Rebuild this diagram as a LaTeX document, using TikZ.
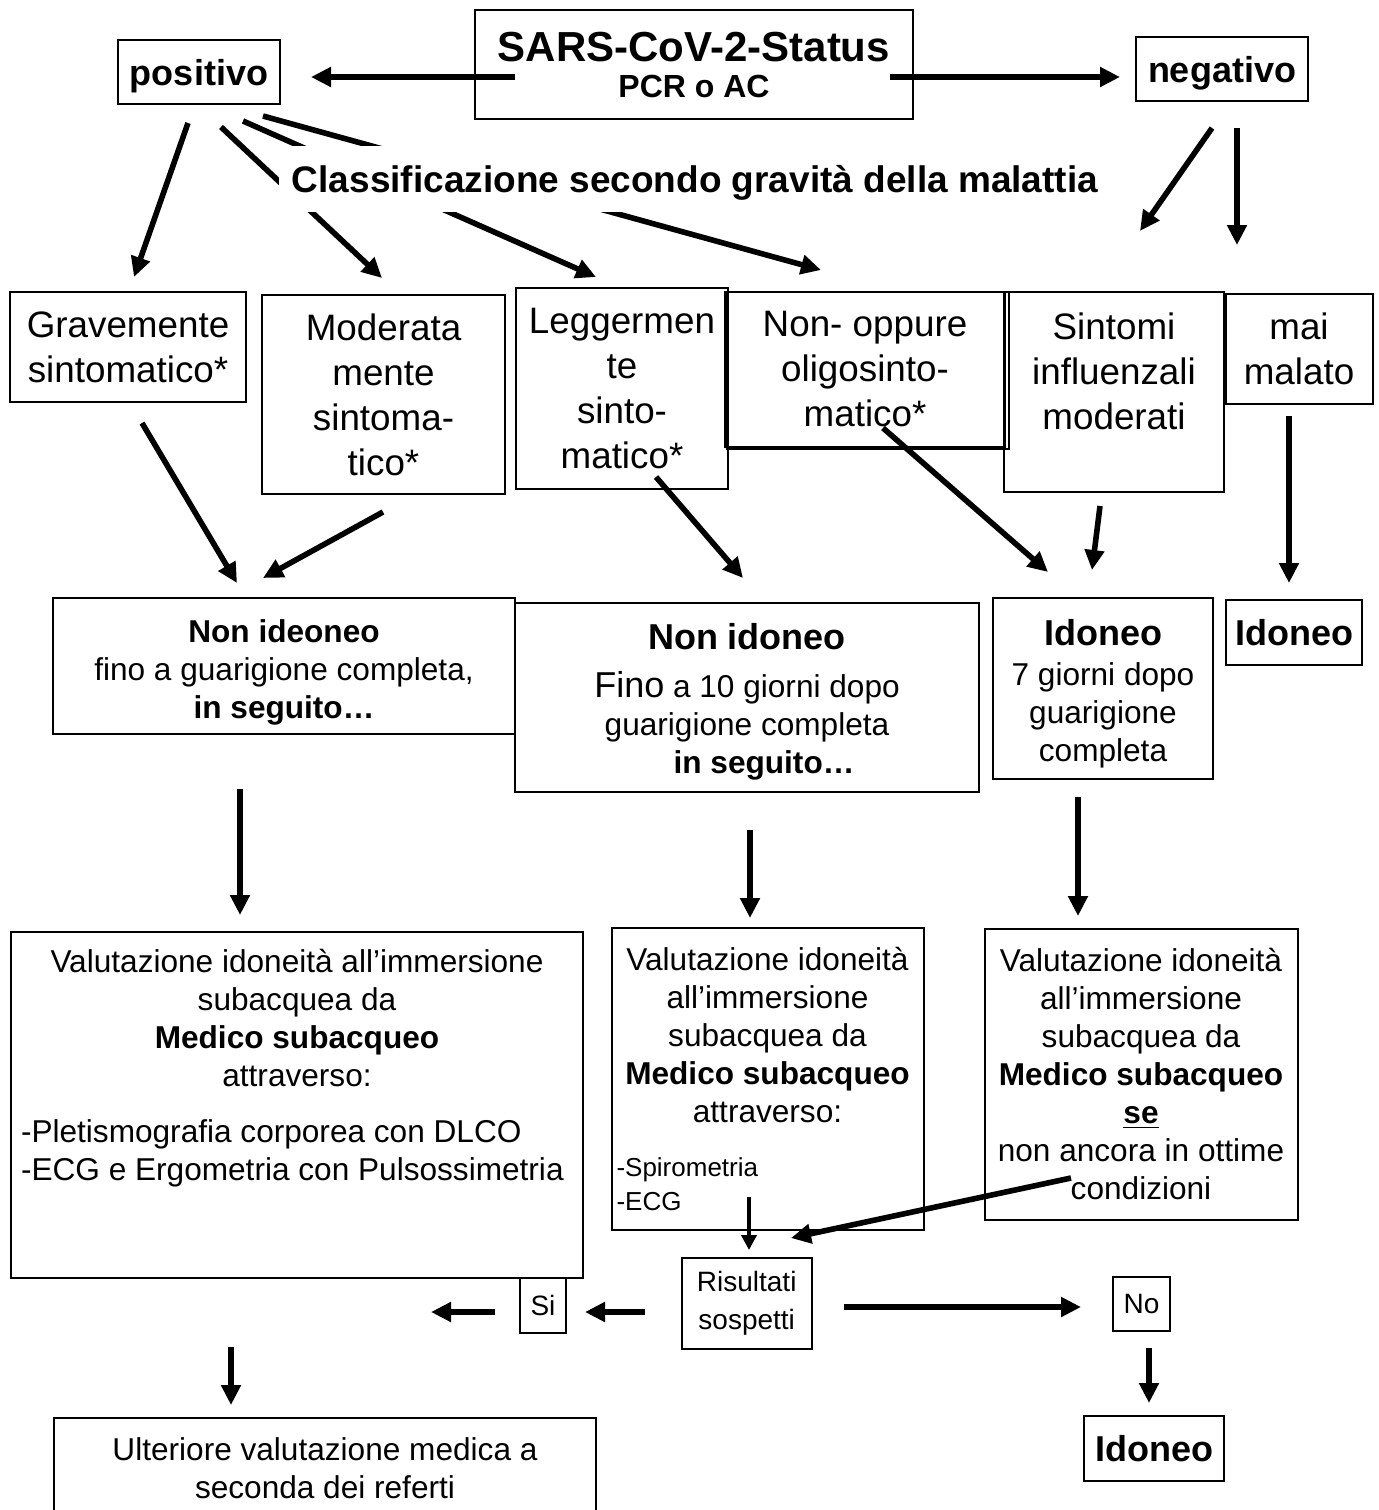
\documentclass[tikz,border=0pt]{standalone}
\usepackage{fontspec}
\setmainfont{Liberation Sans}
\usetikzlibrary{arrows.meta}

\newcommand\txtbig{\fontsize{18.4}{22.5}\selectfont}
\newcommand\txtmid{\fontsize{15.8}{19}\selectfont}
\newcommand\txtsmall{\fontsize{13}{17}\selectfont}
\newcommand\txtres{\fontsize{14}{19}\selectfont}
\newcommand\txthead{\fontsize{18}{22}\selectfont\bfseries}

\tikzset{
    box/.style={draw, line width=1pt, align=center, inner sep=0pt},
    arr/.style={line width=2.8pt, -{Triangle[length=10pt,width=9.5pt]}},
    thinarr/.style={line width=2pt, -{Triangle[length=7.5pt,width=7.5pt]}}
}

\begin{document}
\begin{tikzpicture}[x=0.5pt, y=-0.5pt]
    \useasboundingbox (0,0) rectangle (1378,1510);

    % status and result of the test
    \node[box, minimum width=219pt, minimum height=54.5pt, font=\fontsize{16}{18}\selectfont\bfseries] (status) at (694,64.5)
        {{\fontsize{21}{25}\selectfont SARS-CoV-2-Status}\\PCR o AC};
    \node[box, minimum width=81pt, minimum height=32pt, font=\txthead, text depth=0pt] (pos) at (199,72) {positivo};
    \node[box, minimum width=86pt, minimum height=32pt, font=\txthead, text depth=0pt] (neg) at (1222,69) {negativo};

    \coordinate (status-w) at (515,77);
    \coordinate (pos-e) at (311,77);
    \coordinate (status-e) at (890,77);
    \coordinate (neg-w) at (1120,77);
    \draw[arr] (status-w) -- (pos-e);
    \draw[arr] (status-e) -- (neg-w);

    % severity classes
    \node[box, minimum width=118pt, minimum height=55pt, font=\txtbig] (grav) at (128,347) {Gravemente\\sintomatico*};
    \node[box, minimum width=121.5pt, minimum height=99.5pt, font=\txtbig] (mod) at (383.5,394.5) {Moderata\\mente\\sintoma-\\tico*};
    \node[box, minimum width=106pt, minimum height=100.5pt, font=\txtbig] (legg) at (622,388.5) {Leggermen\\te\\sinto-\\matico*};
    \node[box, minimum width=140pt, minimum height=77.5pt, font=\txtbig] (olig) at (865,369.5) {Non- oppure\\oligosinto-\\matico*};
    \draw[line width=1pt] ([shift={(3,1)}]olig.north west) rectangle ([shift={(3,1)}]olig.south east);
    \node[box, minimum width=110pt, minimum height=100pt, font=\txtbig, text depth=20.5pt] (sint) at (1114,392) {Sintomi\\influenzali\\moderati};
    \node[box, minimum width=73.5pt, minimum height=55pt, font=\txtbig] (mai) at (1299,349) {mai\\malato};

    \coordinate (pos-s1) at (188,123);
    \coordinate (pos-s2) at (221,127);
    \coordinate (pos-s3) at (243,121);
    \coordinate (pos-s4) at (263,116);
    \coordinate (grav-n) at (134,277);
    \coordinate (mod-n) at (382,278);
    \coordinate (legg-n) at (596,277);
    \coordinate (olig-n) at (821,270);
    \coordinate (neg-s1) at (1212,128);
    \coordinate (neg-s2) at (1237,128);
    \coordinate (sint-n) at (1140,231);
    \coordinate (mai-n) at (1237,245);
    \draw[arr] (pos-s1) -- (grav-n);
    \draw[arr] (pos-s2) -- (mod-n);
    \draw[arr] (pos-s3) -- (legg-n);
    \draw[arr] (pos-s4) -- (olig-n);
    \draw[arr] (neg-s1) -- (sint-n);
    \draw[arr] (neg-s2) -- (mai-n);

    \node[fill=white, minimum width=416pt, minimum height=33pt, inner sep=0pt, text depth=0pt, font=\fontsize{18.5}{22}\selectfont\bfseries] (classif) at (695,179)
        {Classificazione secondo gravità della malattia};

    % fitness
    \node[box, minimum width=231pt, minimum height=68pt, font=\txtmid] (nonid1) at (284,666)
        {\rule{0pt}{18.3pt}\textbf{Non ideoneo}\\fino a guarigione completa,\\\textbf{in seguito…}};
    \node[box, minimum width=232pt, minimum height=94.5pt, font=\txtmid] (nonid2) at (747,697.5)
        {\rule{0pt}{17pt}{\txthead Non idoneo}\\[5pt]{\fontsize{18}{19}\selectfont Fino} a 10 giorni dopo\\guarigione completa\\\hspace*{17pt}\textbf{in seguito…}};
    \node[box, minimum width=110pt, minimum height=90.5pt, font=\txtmid] (ido1) at (1103,688.5)
        {\rule{0pt}{18.4pt}{\txthead Idoneo}\\[1pt]7 giorni dopo\\guarigione\\completa};
    \node[box, minimum width=68pt, minimum height=32.5pt, font=\txthead] (ido2) at (1294,632.5) {Idoneo};

    \coordinate (grav-s) at (142,423);
    \coordinate (mod-s) at (383,512);
    \coordinate (legg-in) at (656,477);
    \coordinate (olig-in) at (883,428);
    \coordinate (sint-s) at (1100,506);
    \coordinate (mai-s) at (1289,416);
    \coordinate (nonid1-n1) at (237,583);
    \coordinate (nonid1-n2) at (263,578);
    \coordinate (nonid2-n) at (743,578);
    \coordinate (ido1-n1) at (1048,572);
    \coordinate (ido1-n2) at (1092,570);
    \coordinate (ido2-n) at (1289,583);
    \draw[arr] (grav-s) -- (nonid1-n1);
    \draw[arr] (mod-s) -- (nonid1-n2);
    \draw[arr] (legg-in) -- (nonid2-n);
    \draw[arr] (olig-in) -- (ido1-n1);
    \draw[arr] (sint-s) -- (ido1-n2);
    \draw[arr] (mai-s) -- (ido2-n);

    % medical evaluation
    \node[box, minimum width=286pt, minimum height=173pt, font=\txtmid, text depth=40pt] (val1) at (297,1105)
        {Valutazione idoneità all’immersione\\subacquea da\\\textbf{Medico subacqueo}\\attraverso:\\[9pt]
         \makebox[276pt][l]{-Pletismografia corporea con DLCO}\\
         \makebox[276pt][l]{-ECG e Ergometria con Pulsossimetria}};
    \node[box, minimum width=156pt, minimum height=151pt, font=\txtmid] (val2) at (767.5,1079)
        {Valutazione idoneità\\all’immersione\\subacquea da\\\textbf{Medico subacqueo}\\attraverso:\\[8pt]
         \makebox[151pt][l]{\txtsmall -Spirometria}\\[-2pt]
         \makebox[151pt][l]{\txtsmall -ECG}};
    \node[box, minimum width=156.5pt, minimum height=145.5pt, font=\txtmid] (val3) at (1141,1074.5)
        {Valutazione idoneità\\all’immersione\\subacquea da\\\textbf{Medico subacqueo}\\\textbf{\underline{se}}\\non ancora in ottime\\condizioni};

    \coordinate (nonid1-s) at (240,789);
    \coordinate (nonid2-s) at (750,830);
    \coordinate (ido1-s) at (1078,797);
    \coordinate (val1-n) at (240,915);
    \coordinate (val2-n) at (750,918);
    \coordinate (val3-n) at (1078,916);
    \draw[arr] (nonid1-s) -- (val1-n);
    \draw[arr] (nonid2-s) -- (val2-n);
    \draw[arr] (ido1-s) -- (val3-n);

    % results
    \node[box, minimum width=65pt, minimum height=45.5pt, font=\txtres] (ris) at (746.7,1303.5) {Risultati\\sospetti};
    \node[box, minimum width=23pt, minimum height=27.5pt, font=\txtres] (si) at (543,1305.5) {Si};
    \node[box, minimum width=28.5pt, minimum height=27pt, font=\txtres] (no) at (1141.5,1304) {No};
    \node[box, minimum width=271pt, minimum height=50pt, font=\txtmid] (ult) at (325,1468)
        {Ulteriore valutazione medica a\\seconda dei referti};
    \node[box, minimum width=70pt, minimum height=32.5pt, font=\txthead] (ido3) at (1154,1448.5) {Idoneo};

    \coordinate (val2-in) at (749,1197);
    \coordinate (ris-n) at (749,1250);
    \coordinate (val3-in) at (1071,1178);
    \coordinate (ris-ne) at (791,1238);
    \coordinate (ris-w) at (645,1312);
    \coordinate (si-e) at (585,1312);
    \coordinate (si-w) at (495,1312);
    \coordinate (si-out) at (431,1312);
    \coordinate (ris-e) at (844,1307);
    \coordinate (no-w) at (1081,1307);
    \coordinate (val1-s) at (231,1347);
    \coordinate (ult-n) at (231,1405);
    \coordinate (no-s) at (1149,1348);
    \coordinate (ido3-n) at (1149,1403);
    \draw[thinarr] (val2-in) -- (ris-n);
    \draw[arr] (val3-in) -- (ris-ne);
    \draw[arr] (ris-w) -- (si-e);
    \draw[arr] (si-w) -- (si-out);
    \draw[arr] (ris-e) -- (no-w);
    \draw[arr] (val1-s) -- (ult-n);
    \draw[arr] (no-s) -- (ido3-n);
\end{tikzpicture}
\end{document}
